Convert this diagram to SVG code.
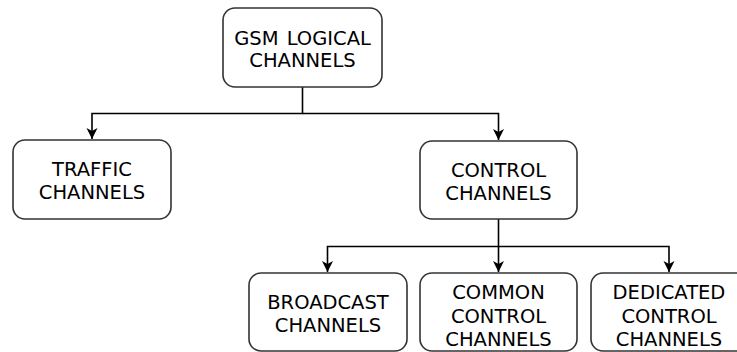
<svg xmlns="http://www.w3.org/2000/svg" width="737" height="352" viewBox="0 0 737 352">
  <defs>
    <marker id="arrow" viewBox="0 0 12 12" refX="11" refY="6" markerWidth="12" markerHeight="12" markerUnits="userSpaceOnUse" orient="auto">
      <path d="M0,0.5 L11,6 L0,11.5 L3,6 Z" fill="#000"/>
    </marker>
    <style>
      .box { fill: #fff; stroke: #333; stroke-width: 1.6; }
      .lbl { font-family: "DejaVu Sans", Verdana, sans-serif; font-size: 19.5px; fill: #000; text-anchor: middle; }
      .wire { fill: none; stroke: #000; stroke-width: 1.6; }
    </style>
  </defs>
  <rect width="737" height="352" fill="#fff"/>

  <g id="connectors">
    <path class="wire" d="M302.5,87 V113.5 H92 V139" marker-end="url(#arrow)"/>
    <path class="wire" d="M302.5,113.5 H498.5 V140" marker-end="url(#arrow)"/>
    <path class="wire" d="M498.5,219 V246.5 H327.5 V272" marker-end="url(#arrow)"/>
    <path class="wire" d="M498.5,246.5 V272" marker-end="url(#arrow)"/>
    <path class="wire" d="M498.5,246.5 H669 V272" marker-end="url(#arrow)"/>
  </g>

  <g id="gsm-logical-channels">
    <rect class="box" x="223" y="8" width="159" height="79" rx="12"/>
    <text class="lbl" x="302.5" y="45" word-spacing="2">GSM LOGICAL</text>
    <text class="lbl" x="302.5" y="67">CHANNELS</text>
  </g>

  <g id="traffic-channels">
    <rect class="box" x="13" y="140" width="158" height="79" rx="12"/>
    <text class="lbl" x="92" y="176">TRAFFIC</text>
    <text class="lbl" x="92" y="199">CHANNELS</text>
  </g>

  <g id="control-channels">
    <rect class="box" x="420" y="141" width="157" height="78" rx="12"/>
    <text class="lbl" x="498.5" y="177">CONTROL</text>
    <text class="lbl" x="498.5" y="200">CHANNELS</text>
  </g>

  <g id="broadcast-channels">
    <rect class="box" x="249" y="273" width="158" height="78" rx="12"/>
    <text class="lbl" x="328" y="309">BROADCAST</text>
    <text class="lbl" x="328" y="332">CHANNELS</text>
  </g>

  <g id="common-control-channels">
    <rect class="box" x="420" y="273" width="157" height="78" rx="12"/>
    <text class="lbl" x="498.5" y="299">COMMON</text>
    <text class="lbl" x="498.5" y="322.5">CONTROL</text>
    <text class="lbl" x="498.5" y="346">CHANNELS</text>
  </g>

  <g id="dedicated-control-channels">
    <rect class="box" x="591" y="273" width="157" height="78" rx="12"/>
    <text class="lbl" x="669" y="299">DEDICATED</text>
    <text class="lbl" x="669" y="322.5">CONTROL</text>
    <text class="lbl" x="669" y="346">CHANNELS</text>
  </g>
</svg>
